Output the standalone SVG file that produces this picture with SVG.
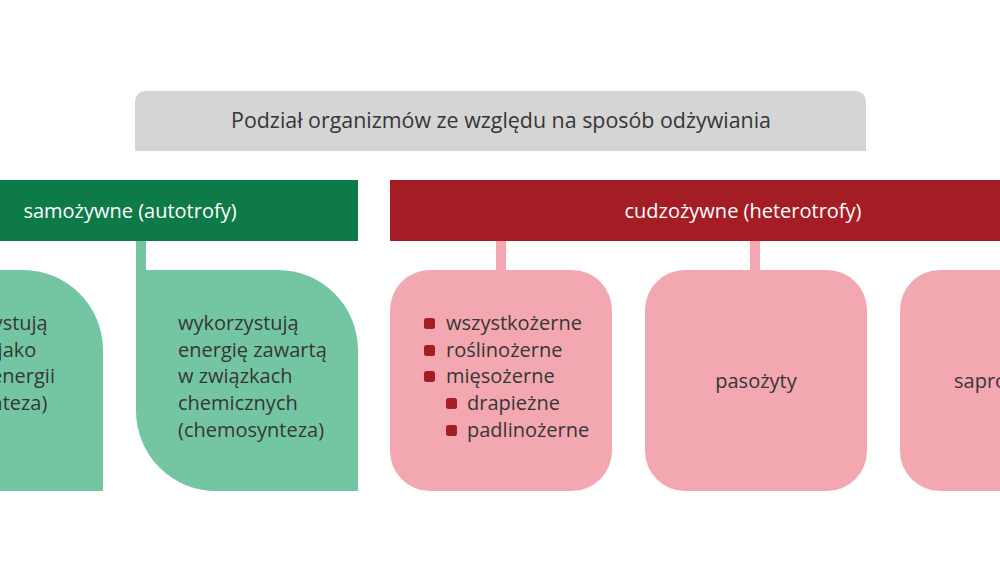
<svg xmlns="http://www.w3.org/2000/svg" width="1000" height="562" viewBox="0 0 1000 562">
<style>
text{font-family:"Open Sans","Noto Sans","DejaVu Sans",sans-serif;}
.t{font-size:20px;fill:#363636;}
.h{font-size:20px;fill:#ffffff;}
.green{fill:#74c6a3;}
.pink{fill:#f3a8b1;}
.bul{fill:#a51d24;}
</style>
<rect width="1000" height="562" fill="#ffffff"/>
<g id="connectors">
<rect x="136" y="240" width="10" height="32" class="green"/>
<rect x="496" y="240" width="10" height="32" class="pink"/>
<rect x="750" y="240" width="10" height="32" class="pink"/>
</g>
<g id="title">
<path d="M135 151 V101 A10 10 0 0 1 145 91 H856 A10 10 0 0 1 866 101 V151 Z" fill="#d5d5d5"/>
<text x="501" y="128" text-anchor="middle" class="t" style="font-size:21.4px">Podział organizmów ze względu na sposób odżywiania</text>
</g>
<g id="autotrofy">
<rect x="-100" y="180" width="458" height="61" fill="#0e7a48"/>
<text x="130" y="218" text-anchor="middle" class="h">samożywne (autotrofy)</text>
</g>
<g id="heterotrofy">
<rect x="390" y="180" width="706" height="61" fill="#a51d24"/>
<text x="743" y="218" text-anchor="middle" class="h">cudzożywne (heterotrofy)</text>
</g>
<g id="fotosynteza">
<path d="M-120 270 H23 A80 80 0 0 1 103 350 V491 H-40 A80 80 0 0 1 -120 411 Z" class="green"/>
<text class="t"><tspan x="-73" y="330">wykorzystują</tspan><tspan x="-73" y="357">światło jako</tspan><tspan x="-73" y="383">źródło energii</tspan><tspan x="-73" y="410">(fotosynteza)</tspan></text>
</g>
<g id="chemosynteza">
<path d="M136 270 H278 A80 80 0 0 1 358 350 V491 H216 A80 80 0 0 1 136 411 Z" class="green"/>
<text class="t"><tspan x="178" y="330">wykorzystują</tspan><tspan x="178" y="357">energię zawartą</tspan><tspan x="178" y="383">w związkach</tspan><tspan x="178" y="410">chemicznych</tspan><tspan x="178" y="437">(chemosynteza)</tspan></text>
</g>
<g id="konsumenci">
<rect x="390" y="270" width="222" height="221" rx="40" class="pink"/>
<rect x="424" y="318" width="11" height="11" rx="2.5" class="bul"/>
<rect x="424" y="345" width="11" height="11" rx="2.5" class="bul"/>
<rect x="424" y="371" width="11" height="11" rx="2.5" class="bul"/>
<rect x="446" y="398" width="11" height="11" rx="2.5" class="bul"/>
<rect x="446" y="425" width="11" height="11" rx="2.5" class="bul"/>
<text class="t"><tspan x="446" y="330">wszystkożerne</tspan><tspan x="446" y="357">roślinożerne</tspan><tspan x="446" y="383">mięsożerne</tspan><tspan x="467" y="410">drapieżne</tspan><tspan x="467" y="437">padlinożerne</tspan></text>
</g>
<g id="pasozyty">
<rect x="645" y="270" width="222" height="221" rx="40" class="pink"/>
<text x="756" y="388" text-anchor="middle" class="t">pasożyty</text>
</g>
<g id="saprofity">
<rect x="900" y="270" width="222" height="221" rx="40" class="pink"/>
<text x="954" y="388" class="t">saprofity</text>
</g>
</svg>
